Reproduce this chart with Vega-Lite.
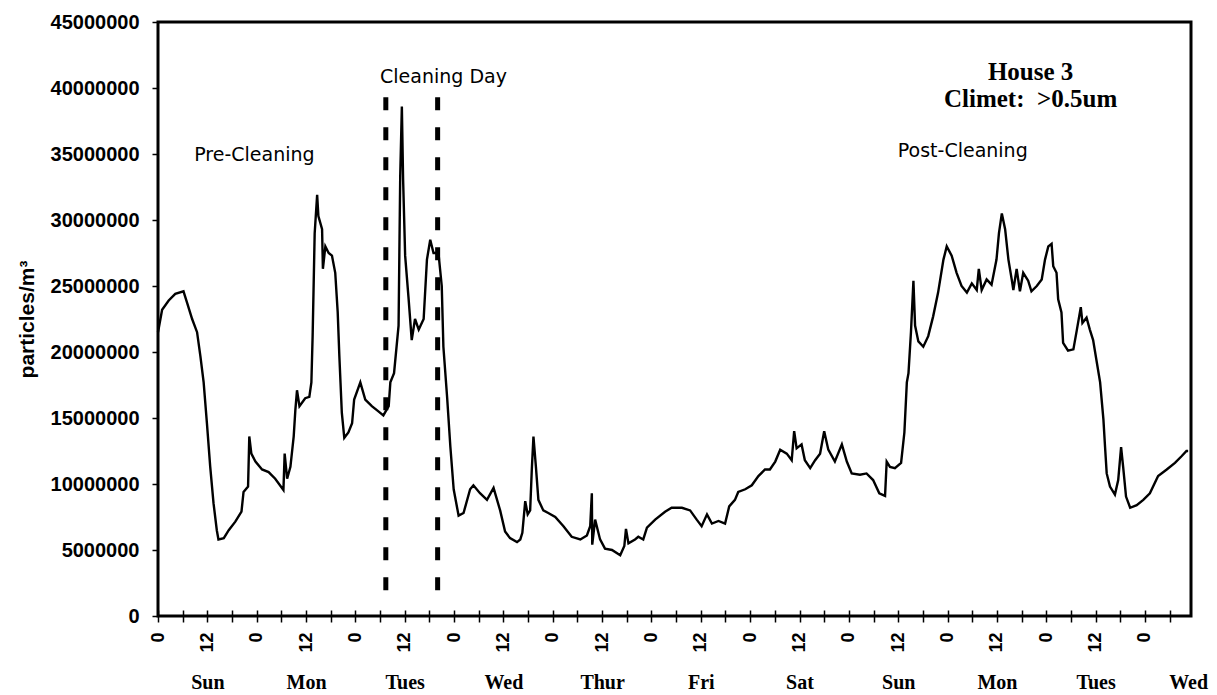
{
  "$schema": "https://vega.github.io/schema/vega-lite/v6.json",
  "width": 1033,
  "height": 594,
  "autosize": "none",
  "padding": {"left": 158, "top": 22, "right": 26, "bottom": 79},
  "background": "white",
  "config": {
    "view": {"stroke": "black", "strokeWidth": 3},
    "axis": {"grid": false, "domain": false, "tickColor": "black", "labelColor": "black", "titleColor": "black"}
  },
  "datasets": {
    "series": [
      {"hour": 0, "value": 21500000}, {"hour": 1.0, "value": 23200000}, {"hour": 2.6, "value": 23900000},
      {"hour": 4.2, "value": 24400000}, {"hour": 6.2, "value": 24600000}, {"hour": 7.1, "value": 23700000},
      {"hour": 8.3, "value": 22500000}, {"hour": 9.5, "value": 21500000}, {"hour": 10.3, "value": 19700000},
      {"hour": 11.1, "value": 17700000}, {"hour": 11.9, "value": 14600000}, {"hour": 12.7, "value": 11300000},
      {"hour": 13.5, "value": 8550000}, {"hour": 14.3, "value": 6500000}, {"hour": 14.7, "value": 5800000},
      {"hour": 16.0, "value": 5900000}, {"hour": 17.2, "value": 6500000}, {"hour": 18.8, "value": 7150000},
      {"hour": 20.3, "value": 7900000}, {"hour": 20.8, "value": 9400000}, {"hour": 21.9, "value": 9800000},
      {"hour": 22.2, "value": 13600000}, {"hour": 22.7, "value": 12300000}, {"hour": 23.7, "value": 11700000},
      {"hour": 25.3, "value": 11100000}, {"hour": 26.9, "value": 10900000}, {"hour": 28.5, "value": 10400000},
      {"hour": 30.5, "value": 9550000}, {"hour": 30.8, "value": 12300000}, {"hour": 31.4, "value": 10400000},
      {"hour": 32.2, "value": 11300000}, {"hour": 33.0, "value": 13600000}, {"hour": 33.4, "value": 15600000},
      {"hour": 33.8, "value": 17100000}, {"hour": 34.4, "value": 15900000}, {"hour": 35.8, "value": 16500000},
      {"hour": 36.8, "value": 16600000}, {"hour": 37.3, "value": 17700000}, {"hour": 37.6, "value": 21200000},
      {"hour": 38.1, "value": 29000000}, {"hour": 38.7, "value": 31900000}, {"hour": 39.0, "value": 30300000},
      {"hour": 39.9, "value": 29300000}, {"hour": 40.1, "value": 26300000}, {"hour": 40.7, "value": 28000000},
      {"hour": 41.5, "value": 27500000}, {"hour": 42.3, "value": 27300000}, {"hour": 43.1, "value": 26000000},
      {"hour": 43.7, "value": 23000000}, {"hour": 44.1, "value": 19700000}, {"hour": 44.7, "value": 15400000},
      {"hour": 45.3, "value": 13500000}, {"hour": 46.3, "value": 13900000}, {"hour": 47.2, "value": 14600000},
      {"hour": 47.7, "value": 16400000}, {"hour": 49.2, "value": 17700000}, {"hour": 50.4, "value": 16400000},
      {"hour": 52.0, "value": 15900000}, {"hour": 53.6, "value": 15500000}, {"hour": 54.8, "value": 15200000},
      {"hour": 56.1, "value": 15900000}, {"hour": 56.5, "value": 17700000}, {"hour": 57.4, "value": 18400000},
      {"hour": 58.5, "value": 22000000}, {"hour": 58.9, "value": 33300000}, {"hour": 59.3, "value": 38600000},
      {"hour": 59.6, "value": 33100000}, {"hour": 60.1, "value": 27300000}, {"hour": 60.9, "value": 24200000},
      {"hour": 61.7, "value": 20900000}, {"hour": 62.5, "value": 22500000}, {"hour": 63.4, "value": 21700000},
      {"hour": 64.6, "value": 22500000}, {"hour": 65.4, "value": 27000000}, {"hour": 66.2, "value": 28500000},
      {"hour": 67.0, "value": 27500000}, {"hour": 68.2, "value": 27500000}, {"hour": 69.0, "value": 25000000},
      {"hour": 69.4, "value": 20400000}, {"hour": 70.3, "value": 16600000}, {"hour": 71.1, "value": 12800000},
      {"hour": 71.9, "value": 9600000}, {"hour": 73.1, "value": 7600000}, {"hour": 74.3, "value": 7800000},
      {"hour": 75.9, "value": 9600000}, {"hour": 76.7, "value": 9900000}, {"hour": 78.3, "value": 9300000},
      {"hour": 80.0, "value": 8800000}, {"hour": 81.6, "value": 9700000}, {"hour": 83.2, "value": 8000000},
      {"hour": 84.4, "value": 6400000}, {"hour": 85.6, "value": 5900000}, {"hour": 87.3, "value": 5600000},
      {"hour": 88.1, "value": 5800000}, {"hour": 88.6, "value": 6300000}, {"hour": 89.3, "value": 8700000},
      {"hour": 89.9, "value": 7700000}, {"hour": 90.5, "value": 8000000}, {"hour": 90.9, "value": 11100000},
      {"hour": 91.3, "value": 13600000}, {"hour": 91.9, "value": 11300000}, {"hour": 92.5, "value": 8800000},
      {"hour": 93.7, "value": 8000000}, {"hour": 94.9, "value": 7800000}, {"hour": 96.6, "value": 7500000},
      {"hour": 98.6, "value": 6800000}, {"hour": 100.6, "value": 6000000}, {"hour": 102.7, "value": 5800000},
      {"hour": 104.3, "value": 6100000}, {"hour": 105.1, "value": 6800000}, {"hour": 105.5, "value": 9300000},
      {"hour": 105.6, "value": 5400000}, {"hour": 106.3, "value": 7300000}, {"hour": 107.5, "value": 5800000},
      {"hour": 108.7, "value": 5100000}, {"hour": 110.4, "value": 5000000}, {"hour": 112.4, "value": 4600000},
      {"hour": 113.4, "value": 5300000}, {"hour": 113.8, "value": 6600000}, {"hour": 114.4, "value": 5500000},
      {"hour": 116.0, "value": 5800000}, {"hour": 116.8, "value": 6000000}, {"hour": 118.0, "value": 5800000},
      {"hour": 118.9, "value": 6700000}, {"hour": 120.9, "value": 7300000}, {"hour": 123.3, "value": 7900000},
      {"hour": 124.9, "value": 8200000}, {"hour": 127.4, "value": 8200000}, {"hour": 129.4, "value": 8000000},
      {"hour": 131.0, "value": 7300000}, {"hour": 132.2, "value": 6800000}, {"hour": 133.5, "value": 7700000},
      {"hour": 134.7, "value": 7000000}, {"hour": 136.3, "value": 7200000}, {"hour": 137.9, "value": 7000000},
      {"hour": 138.9, "value": 8300000}, {"hour": 140.3, "value": 8800000}, {"hour": 141.1, "value": 9400000},
      {"hour": 142.8, "value": 9600000}, {"hour": 144.4, "value": 9900000}, {"hour": 146.0, "value": 10600000},
      {"hour": 147.6, "value": 11100000}, {"hour": 148.8, "value": 11100000}, {"hour": 150.1, "value": 11700000},
      {"hour": 151.3, "value": 12600000}, {"hour": 152.9, "value": 12300000}, {"hour": 154.1, "value": 11800000},
      {"hour": 154.7, "value": 14000000}, {"hour": 155.3, "value": 12700000}, {"hour": 156.5, "value": 13000000},
      {"hour": 157.3, "value": 11800000}, {"hour": 158.6, "value": 11200000}, {"hour": 159.8, "value": 11800000},
      {"hour": 161.0, "value": 12300000}, {"hour": 162.0, "value": 14000000}, {"hour": 163.0, "value": 12600000},
      {"hour": 164.6, "value": 11700000}, {"hour": 166.3, "value": 13000000}, {"hour": 167.5, "value": 11700000},
      {"hour": 168.7, "value": 10800000}, {"hour": 170.7, "value": 10700000}, {"hour": 172.3, "value": 10800000},
      {"hour": 173.9, "value": 10300000}, {"hour": 175.4, "value": 9300000}, {"hour": 176.8, "value": 9100000},
      {"hour": 177.2, "value": 11700000}, {"hour": 178.0, "value": 11300000}, {"hour": 179.2, "value": 11200000},
      {"hour": 180.7, "value": 11600000}, {"hour": 181.5, "value": 13900000}, {"hour": 182.1, "value": 17700000},
      {"hour": 182.5, "value": 18400000}, {"hour": 183.1, "value": 21500000}, {"hour": 183.7, "value": 25400000},
      {"hour": 184.1, "value": 22000000}, {"hour": 184.9, "value": 20800000}, {"hour": 186.1, "value": 20400000},
      {"hour": 187.3, "value": 21200000}, {"hour": 188.5, "value": 22700000}, {"hour": 189.7, "value": 24500000},
      {"hour": 191.0, "value": 27000000}, {"hour": 191.8, "value": 28000000}, {"hour": 193.0, "value": 27300000},
      {"hour": 194.2, "value": 26000000}, {"hour": 195.4, "value": 25000000}, {"hour": 196.7, "value": 24500000},
      {"hour": 197.9, "value": 25200000}, {"hour": 199.1, "value": 24700000}, {"hour": 199.6, "value": 26300000},
      {"hour": 200.3, "value": 24700000}, {"hour": 201.5, "value": 25500000}, {"hour": 202.7, "value": 25100000},
      {"hour": 203.9, "value": 27000000}, {"hour": 204.5, "value": 29000000}, {"hour": 205.2, "value": 30500000},
      {"hour": 206.0, "value": 29300000}, {"hour": 206.8, "value": 27000000}, {"hour": 207.6, "value": 25500000},
      {"hour": 208.0, "value": 24700000}, {"hour": 208.8, "value": 26300000}, {"hour": 209.6, "value": 24600000},
      {"hour": 210.4, "value": 26000000}, {"hour": 211.6, "value": 25400000}, {"hour": 212.4, "value": 24600000},
      {"hour": 213.7, "value": 25000000}, {"hour": 214.9, "value": 25500000}, {"hour": 215.7, "value": 27000000},
      {"hour": 216.5, "value": 28000000}, {"hour": 217.3, "value": 28200000}, {"hour": 217.7, "value": 26500000},
      {"hour": 218.5, "value": 26000000}, {"hour": 218.9, "value": 24000000}, {"hour": 219.7, "value": 23000000},
      {"hour": 220.1, "value": 20700000}, {"hour": 221.3, "value": 20100000}, {"hour": 222.6, "value": 20200000},
      {"hour": 223.4, "value": 21600000}, {"hour": 224.4, "value": 23400000}, {"hour": 224.8, "value": 22200000},
      {"hour": 225.8, "value": 22600000}, {"hour": 226.6, "value": 21700000}, {"hour": 227.4, "value": 20900000},
      {"hour": 228.3, "value": 19200000}, {"hour": 229.1, "value": 17700000}, {"hour": 229.9, "value": 14900000},
      {"hour": 230.3, "value": 12800000}, {"hour": 230.7, "value": 10800000}, {"hour": 231.5, "value": 9800000},
      {"hour": 232.7, "value": 9200000}, {"hour": 233.5, "value": 10300000}, {"hour": 234.2, "value": 12800000},
      {"hour": 234.7, "value": 11300000}, {"hour": 235.4, "value": 9050000}, {"hour": 236.4, "value": 8200000},
      {"hour": 238.0, "value": 8400000}, {"hour": 239.6, "value": 8800000}, {"hour": 241.2, "value": 9300000},
      {"hour": 243.2, "value": 10600000}, {"hour": 245.3, "value": 11100000}, {"hour": 247.3, "value": 11600000},
      {"hour": 248.9, "value": 12100000}, {"hour": 250.1, "value": 12500000}, {"hour": 250.5, "value": 12500000}
    ],
    "cleaning": [
      {"hour": 55.4, "top": 39300000, "bottom": 1200000},
      {"hour": 68.0, "top": 39300000, "bottom": 1200000}
    ],
    "notes": [
      {"label": "Pre-Cleaning", "hour": 8.8, "value": 34900000},
      {"label": "Cleaning Day", "hour": 54.0, "value": 40800000},
      {"label": "Post-Cleaning", "hour": 179.9, "value": 35200000}
    ],
    "heading": [
      {"label": "House 3", "hour": 212.2, "value": 41200000},
      {"label": "Climet:\u00a0 >0.5um", "hour": 212.2, "value": 39200000}
    ]
  },
  "resolve": {"scale": {"x": "independent"}},
  "encoding": {
    "y": {
      "field": "value", "type": "quantitative",
      "scale": {"domain": [0, 45000000], "nice": false},
      "axis": {
        "title": "particles/m³",
        "values": [0, 5000000, 10000000, 15000000, 20000000, 25000000, 30000000, 35000000, 40000000, 45000000],
        "format": "d", "labelFont": "Liberation Sans", "labelFontWeight": "bold", "labelFontSize": 20,
        "labelPadding": 13, "tickSize": 6, "tickWidth": 1.5,
        "titleFont": "Liberation Sans", "titleFontWeight": "bold", "titleFontSize": 21, "titlePadding": 13
      }
    }
  },
  "layer": [
    {
      "data": {"name": "series"},
      "mark": {"type": "line", "color": "black", "strokeWidth": 2.4},
      "encoding": {
        "x": {
          "field": "hour", "type": "quantitative",
          "scale": {"domain": [0, 251.2], "nice": false, "zero": false},
          "axis": {
            "orient": "bottom", "title": null, "offset": -6,
            "values": [0, 6, 12, 18, 24, 30, 36, 42, 48, 54, 60, 66, 72, 78, 84, 90, 96, 102, 108, 114, 120, 126, 132, 138, 144, 150, 156, 162, 168, 174, 180, 186, 192, 198, 204, 210, 216, 222, 228, 234, 240, 246],
            "labelExpr": "datum.value % 24 == 0 ? '0' : (datum.value % 12 == 0 ? '12' : '')",
            "labelAngle": 270, "labelFont": "Liberation Sans", "labelFontWeight": "bold", "labelFontSize": 18,
            "labelPadding": 10, "tickSize": 12, "tickWidth": 1.5,
            "labelOverlap": false, "labelFlush": false, "labelBound": false
          }
        }
      }
    },
    {
      "data": {"name": "cleaning"},
      "mark": {"type": "rule", "color": "black", "strokeWidth": 5, "strokeDash": [13, 17]},
      "encoding": {
        "x": {
          "field": "hour", "type": "quantitative",
          "scale": {"domain": [0, 251.2], "nice": false, "zero": false},
          "axis": {
            "orient": "bottom", "title": null,
            "values": [12, 36, 60, 84, 108, 132, 156, 180, 204, 228, 250.5],
            "labelExpr": "['Sun','Mon','Tues','Wed','Thur','Fri','Sat','Sun','Mon','Tues','Wed'][floor(datum.value / 24)]",
            "ticks": false, "labelFont": "Liberation Serif", "labelFontWeight": "bold", "labelFontSize": 20,
            "labelPadding": 56, "labelOverlap": false, "labelFlush": false, "labelBound": false
          }
        },
        "y": {"field": "top", "type": "quantitative"},
        "y2": {"field": "bottom"}
      }
    },
    {
      "data": {"name": "notes"},
      "mark": {"type": "text", "font": "DejaVu Sans", "fontSize": 19, "align": "left", "baseline": "middle", "color": "black"},
      "encoding": {
        "x": {"field": "hour", "type": "quantitative", "scale": {"domain": [0, 251.2], "nice": false, "zero": false}, "axis": null},
        "text": {"field": "label"}
      }
    },
    {
      "data": {"name": "heading"},
      "mark": {"type": "text", "font": "Liberation Serif", "fontWeight": "bold", "fontSize": 25, "align": "center", "baseline": "middle", "color": "black"},
      "encoding": {
        "x": {"field": "hour", "type": "quantitative", "scale": {"domain": [0, 251.2], "nice": false, "zero": false}, "axis": null},
        "text": {"field": "label"}
      }
    }
  ]
}
